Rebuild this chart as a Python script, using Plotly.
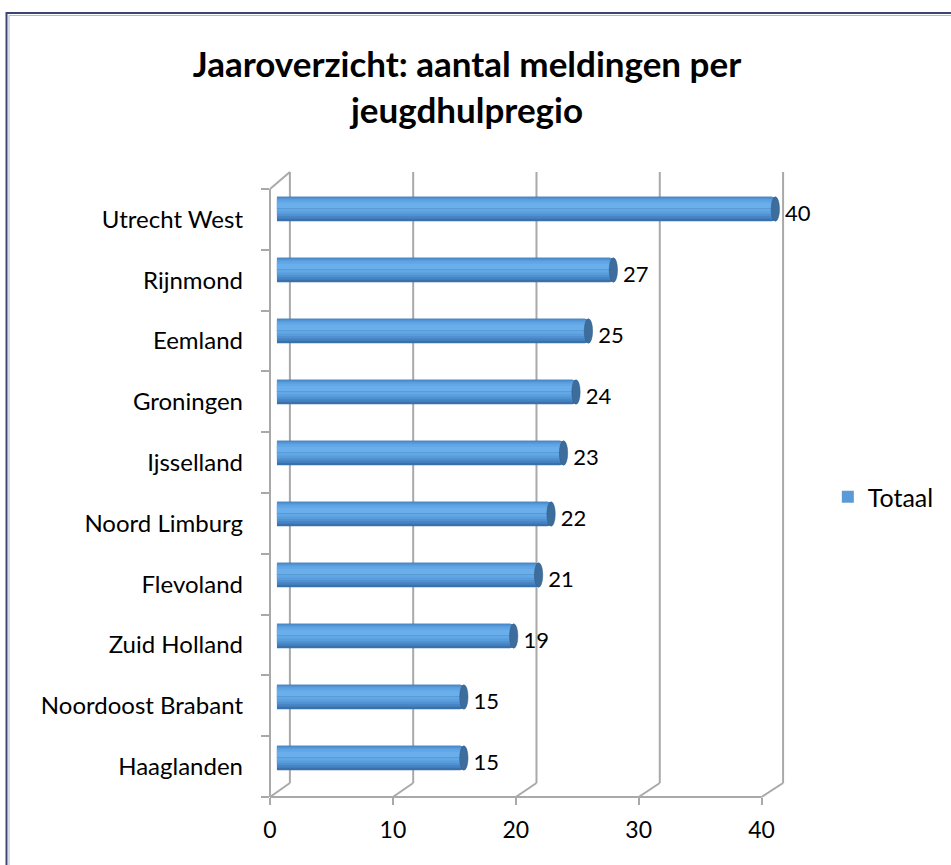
import plotly.graph_objects as go

# ---------------- data ----------------
regions = ["Utrecht West", "Rijnmond", "Eemland", "Groningen", "Ijsselland",
           "Noord Limburg", "Flevoland", "Zuid Holland", "Noordoost Brabant", "Haaglanden"]
totals = [40, 27, 25, 24, 23, 22, 21, 19, 15, 15]
x_ticks = [0, 10, 20, 30, 40]
series_name = "Totaal"
title_text = "Jaaroverzicht: aantal meldingen per<br>jeugdhulpregio"

# bottom-to-top order for the category axis
cats = regions[::-1]
vals = totals[::-1]
idx = list(range(len(cats)))

# ---------------- geometry (pixels) ----------------
W, H = 951, 865
PL, PR, PT, PB = 270, 800, 170, 797
pw, ph = PR - PL, PB - PT

def xr(px0, scale):
    return [(PL - px0) / scale, (PR - px0) / scale]

def yr(py0, scale):
    return [(py0 - PB) / scale, (py0 - PT) / scale]

def paper_x(px):
    return (px - PL) / pw

def paper_y(py):
    return (PB - py) / ph

# bar axes
BAR_X0, BAR_SX = 277, 12.53
BAR_Y0, BAR_SY = 758, 61.0
LBL_Y0 = 764
# front (labelled) axes
FR_X0, FR_SX = 270, 12.36
FR_Y0, FR_SY = 766.5, 60.8
# back wall
BK_X0, BK_SX = 290, 12.4
BK_TOP, BK_BOT = 172, 783
FR_TOP = 189

GRID = "#a9a9a9"
FONT = "Lato"

fig = go.Figure()

# cylinder-like bars: stacked overlay layers (bottom edge dark -> highlight above centre)
layers = [
    (-0.20, 0.20, "#3a70ab"),
    (-0.16, 0.20, "#4683c2"),
    (-0.12, 0.19, "#5091d2"),
    (-0.08, 0.17, "#599ddd"),
    (-0.04, 0.14, "#62a7e6"),
    (0.00, 0.10, "#6aafec"),
]
for k, (lo, hi, col) in enumerate(layers):
    fig.add_trace(go.Bar(
        x=vals, y=cats, orientation="h", width=hi - lo, offset=lo,
        marker=dict(color=col, line=dict(width=0), cornerradius=4),
        name=series_name, showlegend=False, hoverinfo="x+y",
        xaxis="x", yaxis="y",
    ))

# legend entry (uses same data, zero-width so it draws nothing visible)
fig.add_trace(go.Bar(
    x=vals, y=cats, orientation="h", width=0.0001, offset=0,
    marker=dict(color="#5b9bd5", line=dict(width=0)),
    name=series_name, showlegend=True, hoverinfo="skip", xaxis="x", yaxis="y",
))

# data labels
fig.add_trace(go.Scatter(
    x=vals, y=cats, mode="markers+text", text=[str(v) for v in vals],
    textposition="middle right", marker=dict(size=14, color="rgba(0,0,0,0)"),
    textfont=dict(family=FONT, size=22, color="#000000"), cliponaxis=False,
    showlegend=False, hoverinfo="skip", xaxis="x", yaxis="y3",
))

# dummy trace to attach the front axes
fig.add_trace(go.Scatter(x=[None], y=[None], xaxis="x2", yaxis="y2",
                         showlegend=False, hoverinfo="skip"))

shapes = []
# end caps of the cylinders
cap_w = 4.2 / BAR_SX
for i, v in zip(idx, vals):
    shapes.append(dict(type="circle", xref="x", yref="y",
                       x0=v - cap_w, x1=v + cap_w, y0=i - 0.20, y1=i + 0.20,
                       fillcolor="#3d6d9c", line=dict(width=0.5, color="#2f5a86"), layer="above"))

# back wall grid + floor diagonals + front floor edge
for v in x_ticks:
    bx = BK_X0 + v * BK_SX
    fx = FR_X0 + v * FR_SX
    shapes.append(dict(type="line", xref="paper", yref="paper",
                       x0=paper_x(bx), x1=paper_x(bx), y0=paper_y(BK_BOT), y1=paper_y(BK_TOP),
                       line=dict(color=GRID, width=2), layer="below"))
    shapes.append(dict(type="line", xref="paper", yref="paper",
                       x0=paper_x(fx), x1=paper_x(bx), y0=paper_y(PB), y1=paper_y(BK_BOT),
                       line=dict(color=GRID, width=2), layer="below"))
shapes.append(dict(type="line", xref="paper", yref="paper",
                   x0=paper_x(FR_X0), x1=paper_x(FR_X0 + x_ticks[-1] * FR_SX),
                   y0=paper_y(PB), y1=paper_y(PB), line=dict(color=GRID, width=2), layer="below"))
# top-left wall diagonal
shapes.append(dict(type="line", xref="paper", yref="paper",
                   x0=paper_x(FR_X0), x1=paper_x(BK_X0), y0=paper_y(FR_TOP), y1=paper_y(BK_TOP),
                   line=dict(color=GRID, width=2), layer="below"))
# front left wall edge
shapes.append(dict(type="line", xref="paper", yref="paper",
                   x0=paper_x(FR_X0), x1=paper_x(FR_X0), y0=paper_y(PB), y1=paper_y(FR_TOP),
                   line=dict(color=GRID, width=2), layer="below"))
# chart-area border
shapes.append(dict(type="rect", xref="paper", yref="paper",
                   x0=paper_x(5), x1=paper_x(W + 10), y0=paper_y(H + 10), y1=paper_y(13),
                   line=dict(color="#3b4677", width=2), fillcolor="rgba(0,0,0,0)", layer="below"))
shapes.append(dict(type="rect", xref="paper", yref="paper",
                   x0=paper_x(7.5), x1=paper_x(W + 10), y0=paper_y(H + 10), y1=paper_y(15.5),
                   line=dict(color="#b8b8c4", width=1), fillcolor="rgba(0,0,0,0)", layer="below"))

front_y_bounds = [i - 0.5 for i in range(len(cats) + 1)]

fig.update_layout(
    width=W, height=H,
    margin=dict(l=PL, r=W - PR, t=PT, b=H - PB, pad=0),
    paper_bgcolor="white", plot_bgcolor="rgba(0,0,0,0)",
    barmode="overlay",
    font=dict(family=FONT, size=22, color="#000000"),
    title=dict(text=title_text, x=467 / W, xanchor="center", xref="container",
               y=1 - 77 / H, yanchor="middle",
               font=dict(family=FONT, size=35, color="#000000", weight="bold")),
    xaxis=dict(range=xr(BAR_X0, BAR_SX), showgrid=False, zeroline=False, showline=False,
               showticklabels=False, ticks="", fixedrange=True),
    yaxis=dict(type="category", categoryorder="array", categoryarray=cats,
               range=yr(BAR_Y0, BAR_SY), showgrid=False, zeroline=False, showline=False,
               showticklabels=False, ticks="", fixedrange=True),
    yaxis3=dict(type="category", categoryorder="array", categoryarray=cats, overlaying="y",
                anchor="x", range=yr(LBL_Y0, BAR_SY), showgrid=False, zeroline=False,
                showline=False, showticklabels=False, ticks="", fixedrange=True),
    xaxis2=dict(overlaying="x", anchor="y", side="bottom", range=xr(FR_X0, FR_SX),
                tickmode="array", tickvals=x_ticks, ticks="outside", ticklen=7,
                tickcolor=GRID, tickwidth=2, showgrid=False, zeroline=False, showline=False,
                tickfont=dict(family=FONT, size=23, color="#000000"), ticklabelstandoff=5),
    yaxis2=dict(overlaying="y", anchor="x", side="left", range=yr(FR_Y0, FR_SY),
                tickmode="array", tickvals=idx, ticktext=cats, ticks="",
                showgrid=False, zeroline=False, showline=False,
                tickfont=dict(family=FONT, size=24, color="#000000"), ticklabelstandoff=26,
                minor=dict(tickmode="array", tickvals=front_y_bounds, ticks="outside",
                           ticklen=8, tickcolor=GRID, tickwidth=2, showgrid=False)),
    legend=dict(x=(831 - PL) / pw, xanchor="left", y=paper_y(497), yanchor="middle",
                bgcolor="rgba(0,0,0,0)", font=dict(family=FONT, size=25, color="#000000")),
    shapes=shapes,
)

fig.write_html("out.html", post_script="document.body.style.margin='0';",
               config={"displayModeBar": False})
